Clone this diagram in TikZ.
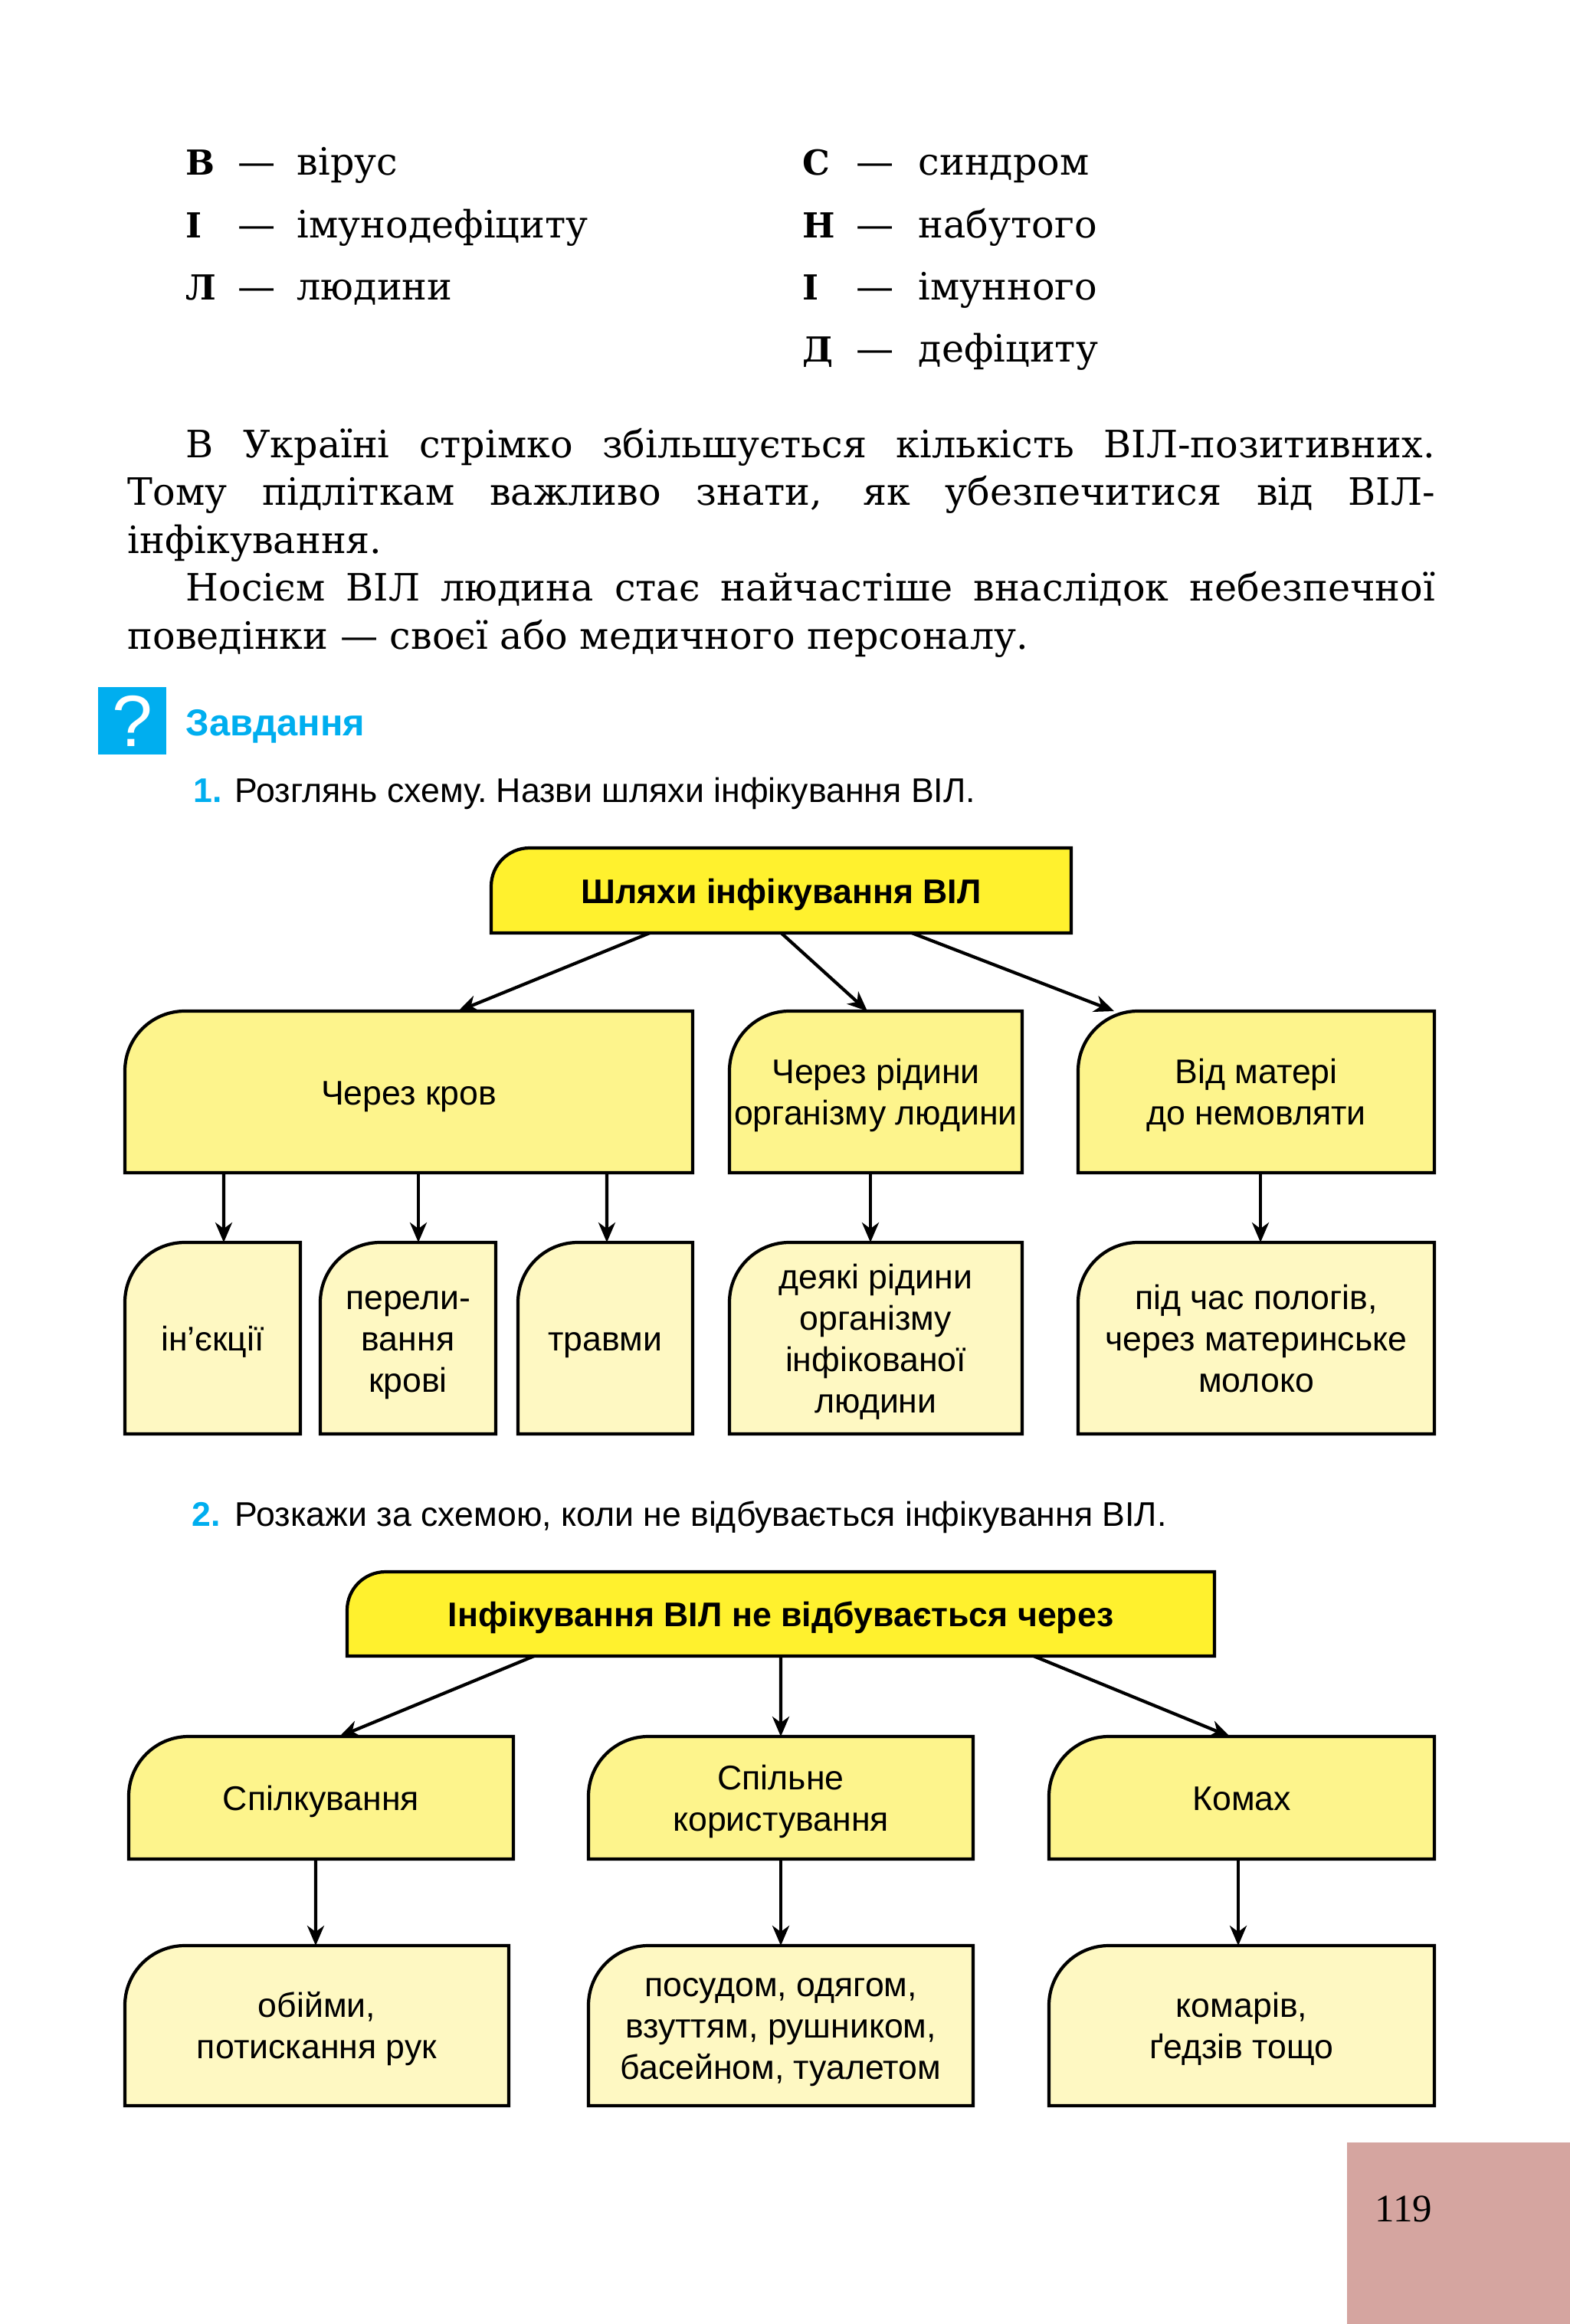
\documentclass[tikz,border=0pt]{standalone}
\usepackage{fontspec}
\setmainfont{DejaVu Serif}
\newfontfamily\boxfont{Liberation Sans}
\newfontfamily\numfont{Liberation Serif}
\usepackage{xcolor}
\usetikzlibrary{arrows.meta}
\definecolor{tabblue}{HTML}{00AEEF}
\definecolor{pagepink}{HTML}{D5A5A0}
\definecolor{headyellow}{HTML}{FFF12E}
\definecolor{midyellow}{HTML}{FDF48C}
\definecolor{softyellow}{HTML}{FEF8C2}
\tikzset{
  cardline/.style={draw=black, line width=1.2pt},
  cardtext/.style={align=center, inner sep=0pt, outer sep=0pt, font=\boxfont\fontsize{12.7}{15.4}\selectfont, execute at begin node={\rule{0pt}{14.1pt}\strut}, execute at end node=\strut},
  headtext/.style={cardtext, font=\boxfont\bfseries\fontsize{12.7}{15.4}\selectfont},
  arrow/.style={-{Stealth[length=2.6mm,width=2.2mm,inset=0.8mm]}, line width=1.2pt},
  bodytext/.style={anchor=base west, inner sep=0pt, font=\fontsize{14}{16}\selectfont},
  keyletter/.style={bodytext, font=\bfseries\fontsize{12.8}{16}\selectfont},
  tasktext/.style={anchor=base west, inner sep=0pt, font=\boxfont\frenchspacing\fontsize{12.7}{14}\selectfont},
  tasknum/.style={anchor=base west, inner sep=0pt, text=tabblue, font=\boxfont\bfseries\fontsize{12.7}{14}\selectfont}
}
% spacer for the first of several lines in a card
\newcommand{\cardgap}{\rule{0pt}{13.9pt}}
% name, left, top, right, bottom, fill, radius, style, text
\newcommand{\card}[9]{%
  \draw[cardline, fill=#6] (#2,#5) [rounded corners=#7] -- (#2,#3) [sharp corners] -- (#4,#3) -- (#4,#5) -- cycle;
  \node[#8, minimum width={(#4-#2)*1cm}, minimum height={(#3-#5)*1cm}] (#1) at ({(#2+#4)/2},{(#3+#5)/2}) {#9};
}
\begin{document}
\begin{tikzpicture}[x=1cm,y=1cm]
  \useasboundingbox (0,0) rectangle (20.48,-30.34);

  \node[keyletter] (kv) at (2.42,-2.28) {В};
  \node[bodytext] (dv) at (3.10,-2.28) {—};
  \node[bodytext] (wv) at (3.87,-2.28) {вірус};
  \node[keyletter] (ki) at (2.42,-3.10) {І};
  \node[bodytext] (di) at (3.10,-3.10) {—};
  \node[bodytext] (wi) at (3.87,-3.10) {імунодефіциту};
  \node[keyletter] (kl) at (2.42,-3.91) {Л};
  \node[bodytext] (dl) at (3.10,-3.91) {—};
  \node[bodytext] (wl) at (3.87,-3.91) {людини};

  \node[keyletter] (ks) at (10.47,-2.28) {С};
  \node[bodytext] (ds) at (11.17,-2.28) {—};
  \node[bodytext] (ws) at (11.98,-2.28) {синдром};
  \node[keyletter] (kn) at (10.47,-3.10) {Н};
  \node[bodytext] (dn) at (11.17,-3.10) {—};
  \node[bodytext] (wn) at (11.98,-3.10) {набутого};
  \node[keyletter] (kj) at (10.47,-3.91) {І};
  \node[bodytext] (dj) at (11.17,-3.91) {—};
  \node[bodytext] (wj) at (11.98,-3.91) {імунного};
  \node[keyletter] (kd) at (10.47,-4.72) {Д};
  \node[bodytext] (dd) at (11.17,-4.72) {—};
  \node[bodytext] (wd) at (11.98,-4.72) {дефіциту};

  \node[bodytext] (line1) at (2.42,-5.97) {\makebox[16.30cm][s]{В Україні стрімко збільшується кількість ВІЛ-позитивних.}};
  \node[bodytext] (line2) at (1.66,-6.59) {\makebox[17.06cm][s]{Тому підліткам важливо знати, як убезпечитися від ВІЛ-}};
  \node[bodytext] (line3) at (1.66,-7.22) {інфікування.};
  \node[bodytext] (line4) at (2.42,-7.84) {\makebox[16.30cm][s]{Носієм ВІЛ людина стає найчастіше внаслідок небезпечної}};
  \node[bodytext] (line5) at (1.66,-8.47) {поведінки — своєї або медичного персоналу.};

  \node[fill=tabblue, minimum width=0.89cm, minimum height=0.88cm, inner sep=0pt, text=white, font=\boxfont\fontsize{27}{27}\selectfont] (qmark) at (1.725,-9.41) {?};
  \node[anchor=base west, inner sep=0pt, text=tabblue, font=\boxfont\bfseries\fontsize{13.9}{16}\selectfont] (tasks) at (2.42,-9.60) {Завдання};
  \node[tasknum] (num1) at (2.52,-10.47) {1.};
  \node[tasktext] (task1) at (3.06,-10.47) {Розглянь схему. Назви шляхи інфікування ВІЛ.};

  \card{routes}{6.41}{-11.07}{13.98}{-12.18}{headyellow}{0.5cm}{headtext}{Шляхи інфікування ВІЛ}
  \card{blood}{1.63}{-13.20}{9.04}{-15.31}{midyellow}{0.78cm}{cardtext}{Через кров}
  \card{fluids}{9.52}{-13.20}{13.34}{-15.31}{midyellow}{0.78cm}{cardtext}{\cardgap Через рідини\\організму людини}
  \card{mother}{14.07}{-13.20}{18.72}{-15.31}{midyellow}{0.78cm}{cardtext}{\cardgap Від матері\\до немовляти}
  \card{inject}{1.63}{-16.22}{3.92}{-18.72}{softyellow}{0.78cm}{cardtext}{ін’єкції}
  \card{transf}{4.18}{-16.22}{6.47}{-18.72}{softyellow}{0.78cm}{cardtext}{\cardgap перели-\\вання\\крові}
  \card{trauma}{6.76}{-16.22}{9.04}{-18.72}{softyellow}{0.78cm}{cardtext}{травми}
  \card{liquid}{9.52}{-16.22}{13.34}{-18.72}{softyellow}{0.78cm}{cardtext}{\cardgap деякі рідини\\організму\\інфікованої\\людини}
  \card{birth}{14.07}{-16.22}{18.72}{-18.72}{softyellow}{0.78cm}{cardtext}{\cardgap під час пологів,\\через материнське\\молоко}

  \draw[arrow] ([xshift=-1.715cm]routes.south) -- ([xshift=0.645cm]blood.north);
  \draw[arrow] (routes.south) -- ([xshift=-0.11cm]fluids.north);
  \draw[arrow] ([xshift=1.705cm]routes.south) -- ([xshift=-1.855cm]mother.north);
  \draw[arrow] ([xshift=-2.415cm]blood.south) -- ([xshift=0.145cm]inject.north);
  \draw[arrow] ([xshift=0.125cm]blood.south) -- ([xshift=0.135cm]transf.north);
  \draw[arrow] ([xshift=2.585cm]blood.south) -- ([xshift=0.02cm]trauma.north);
  \draw[arrow] ([xshift=-0.07cm]fluids.south) -- ([xshift=-0.07cm]liquid.north);
  \draw[arrow] ([xshift=0.055cm]mother.south) -- ([xshift=0.055cm]birth.north);

  \node[tasknum] (num2) at (2.50,-19.92) {2.};
  \node[tasktext] (task2) at (3.06,-19.92) {Розкажи за схемою, коли не відбувається інфікування ВІЛ.};

  \card{noroute}{4.53}{-20.52}{15.85}{-21.62}{headyellow}{0.5cm}{headtext}{Інфікування ВІЛ не відбувається через}
  \card{contact}{1.68}{-22.67}{6.70}{-24.27}{midyellow}{0.78cm}{cardtext}{Спілкування}
  \card{shared}{7.68}{-22.67}{12.70}{-24.27}{midyellow}{0.78cm}{cardtext}{\cardgap Спільне\\користування}
  \card{insects}{13.69}{-22.67}{18.72}{-24.27}{midyellow}{0.78cm}{cardtext}{Комах}
  \card{hugs}{1.63}{-25.40}{6.64}{-27.49}{softyellow}{0.78cm}{cardtext}{\cardgap обійми,\\потискання рук}
  \card{dishes}{7.68}{-25.40}{12.70}{-27.49}{softyellow}{0.78cm}{cardtext}{\cardgap посудом, одягом,\\взуттям, рушником,\\басейном, туалетом}
  \card{bites}{13.69}{-25.40}{18.72}{-27.49}{softyellow}{0.78cm}{cardtext}{\cardgap комарів,\\ґедзів тощо}

  \draw[arrow] ([xshift=-3.22cm]noroute.south) -- ([xshift=0.24cm]contact.north);
  \draw[arrow] (noroute.south) -- (shared.north);
  \draw[arrow] ([xshift=3.30cm]noroute.south) -- ([xshift=-0.155cm]insects.north);
  \draw[arrow] ([xshift=-0.07cm]contact.south) -- ([xshift=-0.015cm]hugs.north);
  \draw[arrow] (shared.south) -- (dishes.north);
  \draw[arrow] ([xshift=-0.045cm]insects.south) -- ([xshift=-0.045cm]bites.north);

  \node[fill=pagepink, anchor=north west, minimum width=2.91cm, minimum height=2.38cm, inner sep=0pt] (pagetab) at (17.57,-27.96) {};
  \node[anchor=base west, inner sep=0pt, font=\numfont\fontsize{14.5}{16}\selectfont] (pagenum) at (17.94,-29.00) {119};
\end{tikzpicture}
\end{document}
